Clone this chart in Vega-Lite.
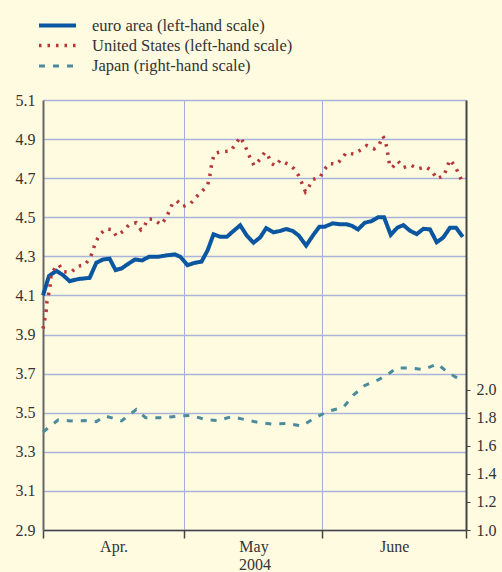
{
  "$schema": "https://vega.github.io/schema/vega-lite/v6.json",
  "width": 423,
  "height": 430,
  "autosize": {"type": "none"},
  "padding": {"left": 43, "top": 100, "right": 36, "bottom": 42},
  "background": "#fefbe0",
  "config": {
    "view": {"stroke": null},
    "font": "Liberation Serif",
    "axis": {"labelFont": "Liberation Serif", "labelFontSize": 16, "labelColor": "#333333", "titleFont": "Liberation Serif", "titleFontSize": 16, "titleFontWeight": "normal", "titleColor": "#333333"},
    "legend": {
      "labelFont": "Liberation Serif",
      "labelFontSize": 16.5,
      "labelColor": "#333333",
      "labelLimit": 400,
      "labelOffset": 23,
      "symbolType": "M-2,0H2",
      "symbolSize": 342,
      "symbolStrokeWidth": 4,
      "rowPadding": 0.5,
      "padding": 0
    }
  },
  "data": {
    "values": [
      {"s": "EA", "t": 0, "v": 4.10}, {"s": "EA", "t": 0.9, "v": 4.20}, {"s": "EA", "t": 2.0, "v": 4.226}, {"s": "EA", "t": 3.0, "v": 4.204},
      {"s": "EA", "t": 4.0, "v": 4.173}, {"s": "EA", "t": 5.3, "v": 4.184}, {"s": "EA", "t": 7.0, "v": 4.19}, {"s": "EA", "t": 8.0, "v": 4.267},
      {"s": "EA", "t": 9.0, "v": 4.284}, {"s": "EA", "t": 10.0, "v": 4.288}, {"s": "EA", "t": 10.9, "v": 4.23}, {"s": "EA", "t": 11.8, "v": 4.238},
      {"s": "EA", "t": 12.8, "v": 4.262}, {"s": "EA", "t": 13.8, "v": 4.284}, {"s": "EA", "t": 14.9, "v": 4.279}, {"s": "EA", "t": 15.9, "v": 4.298},
      {"s": "EA", "t": 17.3, "v": 4.298}, {"s": "EA", "t": 18.5, "v": 4.305}, {"s": "EA", "t": 19.8, "v": 4.31}, {"s": "EA", "t": 20.6, "v": 4.298},
      {"s": "EA", "t": 21.7, "v": 4.255}, {"s": "EA", "t": 22.8, "v": 4.267}, {"s": "EA", "t": 23.8, "v": 4.273}, {"s": "EA", "t": 24.7, "v": 4.33},
      {"s": "EA", "t": 25.6, "v": 4.413}, {"s": "EA", "t": 26.6, "v": 4.40}, {"s": "EA", "t": 27.6, "v": 4.40}, {"s": "EA", "t": 28.6, "v": 4.43},
      {"s": "EA", "t": 29.6, "v": 4.459}, {"s": "EA", "t": 30.6, "v": 4.406}, {"s": "EA", "t": 31.6, "v": 4.37}, {"s": "EA", "t": 32.6, "v": 4.397},
      {"s": "EA", "t": 33.5, "v": 4.444}, {"s": "EA", "t": 34.6, "v": 4.423}, {"s": "EA", "t": 35.6, "v": 4.43}, {"s": "EA", "t": 36.5, "v": 4.44},
      {"s": "EA", "t": 37.5, "v": 4.43}, {"s": "EA", "t": 38.4, "v": 4.406}, {"s": "EA", "t": 39.5, "v": 4.355}, {"s": "EA", "t": 40.5, "v": 4.406},
      {"s": "EA", "t": 41.5, "v": 4.452}, {"s": "EA", "t": 42.3, "v": 4.452}, {"s": "EA", "t": 43.5, "v": 4.469}, {"s": "EA", "t": 44.6, "v": 4.464},
      {"s": "EA", "t": 45.6, "v": 4.464}, {"s": "EA", "t": 46.4, "v": 4.456}, {"s": "EA", "t": 47.3, "v": 4.438}, {"s": "EA", "t": 48.3, "v": 4.472},
      {"s": "EA", "t": 49.3, "v": 4.48}, {"s": "EA", "t": 50.3, "v": 4.50}, {"s": "EA", "t": 51.2, "v": 4.50}, {"s": "EA", "t": 52.2, "v": 4.41},
      {"s": "EA", "t": 53.2, "v": 4.447}, {"s": "EA", "t": 54.1, "v": 4.46}, {"s": "EA", "t": 55.1, "v": 4.431}, {"s": "EA", "t": 56.1, "v": 4.414},
      {"s": "EA", "t": 57.1, "v": 4.441}, {"s": "EA", "t": 58.1, "v": 4.438}, {"s": "EA", "t": 59.1, "v": 4.372}, {"s": "EA", "t": 60.1, "v": 4.397},
      {"s": "EA", "t": 61.1, "v": 4.447}, {"s": "EA", "t": 62.0, "v": 4.447}, {"s": "EA", "t": 63.0, "v": 4.40},

      {"s": "US", "t": 0, "v": 3.93}, {"s": "US", "t": 0.3, "v": 3.985}, {"s": "US", "t": 0.5, "v": 4.028}, {"s": "US", "t": 0.6, "v": 4.071},
      {"s": "US", "t": 0.9, "v": 4.115}, {"s": "US", "t": 1.1, "v": 4.158}, {"s": "US", "t": 1.2, "v": 4.20}, {"s": "US", "t": 1.8, "v": 4.242},
      {"s": "US", "t": 2.4, "v": 4.257}, {"s": "US", "t": 3.1, "v": 4.221}, {"s": "US", "t": 4.2, "v": 4.218}, {"s": "US", "t": 5.2, "v": 4.249},
      {"s": "US", "t": 6.3, "v": 4.257}, {"s": "US", "t": 7.1, "v": 4.293}, {"s": "US", "t": 7.5, "v": 4.332}, {"s": "US", "t": 7.9, "v": 4.373},
      {"s": "US", "t": 8.5, "v": 4.41}, {"s": "US", "t": 9.4, "v": 4.44}, {"s": "US", "t": 10.4, "v": 4.436}, {"s": "US", "t": 11.0, "v": 4.404},
      {"s": "US", "t": 12.1, "v": 4.43}, {"s": "US", "t": 12.9, "v": 4.462}, {"s": "US", "t": 14.0, "v": 4.472}, {"s": "US", "t": 14.7, "v": 4.436},
      {"s": "US", "t": 15.2, "v": 4.452}, {"s": "US", "t": 15.7, "v": 4.491}, {"s": "US", "t": 16.6, "v": 4.49}, {"s": "US", "t": 17.7, "v": 4.462},
      {"s": "US", "t": 18.3, "v": 4.488}, {"s": "US", "t": 18.9, "v": 4.527}, {"s": "US", "t": 19.4, "v": 4.567}, {"s": "US", "t": 20.1, "v": 4.584},
      {"s": "US", "t": 21.0, "v": 4.555}, {"s": "US", "t": 22.1, "v": 4.568}, {"s": "US", "t": 22.9, "v": 4.60}, {"s": "US", "t": 23.8, "v": 4.631},
      {"s": "US", "t": 24.7, "v": 4.662}, {"s": "US", "t": 25.0, "v": 4.703}, {"s": "US", "t": 25.2, "v": 4.746}, {"s": "US", "t": 25.4, "v": 4.789},
      {"s": "US", "t": 25.8, "v": 4.828}, {"s": "US", "t": 27.0, "v": 4.836}, {"s": "US", "t": 28.1, "v": 4.838}, {"s": "US", "t": 28.9, "v": 4.872},
      {"s": "US", "t": 29.6, "v": 4.91}, {"s": "US", "t": 30.2, "v": 4.876}, {"s": "US", "t": 30.7, "v": 4.836}, {"s": "US", "t": 31.2, "v": 4.795},
      {"s": "US", "t": 31.7, "v": 4.765}, {"s": "US", "t": 32.6, "v": 4.797}, {"s": "US", "t": 33.3, "v": 4.833}, {"s": "US", "t": 33.8, "v": 4.814},
      {"s": "US", "t": 34.3, "v": 4.775}, {"s": "US", "t": 34.9, "v": 4.763}, {"s": "US", "t": 35.6, "v": 4.792}, {"s": "US", "t": 36.7, "v": 4.773},
      {"s": "US", "t": 37.7, "v": 4.748}, {"s": "US", "t": 38.4, "v": 4.712}, {"s": "US", "t": 38.9, "v": 4.672}, {"s": "US", "t": 39.4, "v": 4.631},
      {"s": "US", "t": 39.9, "v": 4.655}, {"s": "US", "t": 40.5, "v": 4.693}, {"s": "US", "t": 41.6, "v": 4.705}, {"s": "US", "t": 42.2, "v": 4.743},
      {"s": "US", "t": 43.0, "v": 4.775}, {"s": "US", "t": 44.1, "v": 4.772}, {"s": "US", "t": 44.8, "v": 4.797}, {"s": "US", "t": 45.5, "v": 4.83},
      {"s": "US", "t": 46.7, "v": 4.823}, {"s": "US", "t": 47.7, "v": 4.845}, {"s": "US", "t": 48.6, "v": 4.867}, {"s": "US", "t": 49.7, "v": 4.85},
      {"s": "US", "t": 50.5, "v": 4.874}, {"s": "US", "t": 51.0, "v": 4.915}, {"s": "US", "t": 51.3, "v": 4.90}, {"s": "US", "t": 51.6, "v": 4.859},
      {"s": "US", "t": 51.8, "v": 4.816}, {"s": "US", "t": 52.0, "v": 4.773}, {"s": "US", "t": 52.4, "v": 4.753}, {"s": "US", "t": 53.3, "v": 4.787},
      {"s": "US", "t": 54.1, "v": 4.754}, {"s": "US", "t": 55.2, "v": 4.767}, {"s": "US", "t": 56.3, "v": 4.748}, {"s": "US", "t": 57.5, "v": 4.758},
      {"s": "US", "t": 58.4, "v": 4.736}, {"s": "US", "t": 59.1, "v": 4.698}, {"s": "US", "t": 60.2, "v": 4.712}, {"s": "US", "t": 60.6, "v": 4.753},
      {"s": "US", "t": 61.1, "v": 4.794}, {"s": "US", "t": 61.8, "v": 4.763}, {"s": "US", "t": 62.4, "v": 4.724}, {"s": "US", "t": 62.9, "v": 4.683},

      {"s": "JP", "t": 0, "v": 1.70}, {"s": "JP", "t": 2.3, "v": 1.786}, {"s": "JP", "t": 4.1, "v": 1.779}, {"s": "JP", "t": 6.4, "v": 1.781},
      {"s": "JP", "t": 8.0, "v": 1.774}, {"s": "JP", "t": 9.3, "v": 1.815}, {"s": "JP", "t": 11.8, "v": 1.779}, {"s": "JP", "t": 14.0, "v": 1.86},
      {"s": "JP", "t": 15.4, "v": 1.802}, {"s": "JP", "t": 17.6, "v": 1.802}, {"s": "JP", "t": 19.9, "v": 1.811}, {"s": "JP", "t": 22.2, "v": 1.819},
      {"s": "JP", "t": 24.4, "v": 1.788}, {"s": "JP", "t": 26.3, "v": 1.781}, {"s": "JP", "t": 28.3, "v": 1.809}, {"s": "JP", "t": 30.5, "v": 1.786},
      {"s": "JP", "t": 32.2, "v": 1.769}, {"s": "JP", "t": 34.3, "v": 1.757}, {"s": "JP", "t": 36.7, "v": 1.761}, {"s": "JP", "t": 38.9, "v": 1.743},
      {"s": "JP", "t": 40.8, "v": 1.80}, {"s": "JP", "t": 42.8, "v": 1.847}, {"s": "JP", "t": 45.1, "v": 1.876}, {"s": "JP", "t": 46.6, "v": 1.964},
      {"s": "JP", "t": 48.3, "v": 2.031}, {"s": "JP", "t": 50.4, "v": 2.074}, {"s": "JP", "t": 51.7, "v": 2.109}, {"s": "JP", "t": 53.1, "v": 2.157},
      {"s": "JP", "t": 55.0, "v": 2.157}, {"s": "JP", "t": 57.1, "v": 2.145}, {"s": "JP", "t": 59.2, "v": 2.186}, {"s": "JP", "t": 60.8, "v": 2.124},
      {"s": "JP", "t": 62.7, "v": 2.071}
    ]
  },
  "encoding": {
    "x": {
      "field": "t",
      "type": "quantitative",
      "scale": {"domain": [0, 63.5], "nice": false, "zero": false},
      "axis": {
        "title": "2004",
        "titlePadding": 2,
        "values": [0, 10.6, 21.2, 31.6, 41.9, 52.7, 63.5],
        "labelExpr": "datum.value == 10.6 ? 'Apr.' : datum.value == 31.6 ? 'May' : datum.value == 52.7 ? 'June' : ''",
        "labelPadding": 0,
        "labelFlush": false,
        "labelOverlap": false,
        "tickSize": 8,
        "tickColor": "#444444",
        "tickWidth": 1.5,
        "tickOpacity": {"condition": {"test": "datum.value == 10.6 || datum.value == 31.6 || datum.value == 52.7", "value": 0}, "value": 1},
        "domainColor": "#444444",
        "domainWidth": 1.5,
        "grid": true,
        "gridColor": "#a0aee2",
        "gridWidth": 1,
        "gridOpacity": {"condition": {"test": "datum.value == 21.2 || datum.value == 41.9", "value": 1}, "value": 0}
      }
    },
    "color": {
      "field": "s",
      "type": "nominal",
      "scale": {"domain": ["EA", "US", "JP"], "range": ["#0a56a0", "#b5373a", "#4b8b9b"]},
      "legend": {
        "title": null,
        "orient": "none",
        "legendX": 3,
        "legendY": -86,
        "labelExpr": "datum.value == 'EA' ? 'euro area (left-hand scale)' : datum.value == 'US' ? 'United States (left-hand scale)' : 'Japan (right-hand scale)'"
      }
    },
    "strokeDash": {
      "field": "s",
      "type": "nominal",
      "scale": {"domain": ["EA", "US", "JP"], "range": [[1, 0], [2.5, 6], [6, 8]]},
      "legend": {
        "title": null,
        "orient": "none",
        "legendX": 3,
        "legendY": -86,
        "labelExpr": "datum.value == 'EA' ? 'euro area (left-hand scale)' : datum.value == 'US' ? 'United States (left-hand scale)' : 'Japan (right-hand scale)'"
      }
    },
    "strokeWidth": {
      "field": "s",
      "type": "nominal",
      "scale": {"domain": ["EA", "US", "JP"], "range": [4, 3, 3.5]},
      "legend": null
    }
  },
  "layer": [
    {
      "transform": [{"filter": "datum.s != 'JP'"}],
      "mark": {"type": "line", "strokeCap": "butt", "strokeJoin": "miter"},
      "encoding": {
        "y": {
          "field": "v",
          "type": "quantitative",
          "scale": {"domain": [2.9, 5.1], "nice": false, "zero": false},
          "axis": {
            "title": null,
            "values": [2.9, 3.1, 3.3, 3.5, 3.7, 3.9, 4.1, 4.3, 4.5, 4.7, 4.9, 5.1],
            "format": ".1f",
            "tickSize": 0,
            "labelPadding": 8,
            "domainColor": "#666666",
            "domainWidth": 2,
            "grid": true,
            "gridColor": "#aab4d8",
            "gridWidth": 1.5
          }
        }
      }
    },
    {
      "transform": [{"filter": "datum.s == 'JP'"}],
      "mark": {"type": "line", "strokeCap": "butt"},
      "encoding": {
        "y": {
          "field": "v",
          "type": "quantitative",
          "scale": {"domain": [1.0, 4.07], "nice": false, "zero": false},
          "axis": {
            "orient": "right",
            "title": null,
            "values": [1.0, 1.2, 1.4, 1.6, 1.8, 2.0],
            "format": ".1f",
            "tickSize": 4,
            "tickColor": "#444444",
            "labelPadding": 6,
            "domainColor": "#444444",
            "domainWidth": 2,
            "grid": false
          }
        }
      }
    }
  ],
  "resolve": {"scale": {"y": "independent"}}
}
